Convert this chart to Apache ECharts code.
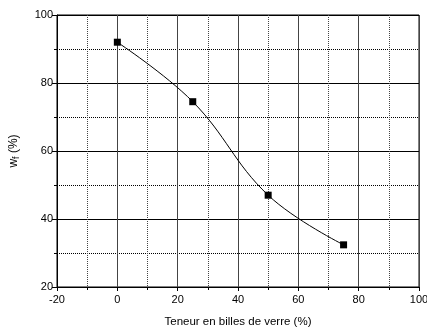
<!DOCTYPE html>
<html>
<head>
<meta charset="utf-8">
<script src="https://cdn.jsdelivr.net/npm/echarts@6/dist/echarts.min.js"></script>
<style>
    html, body { margin: 0; padding: 0; background: #fff; }
    #main { width: 427px; height: 327px; }
</style>
</head>
<body>
<div id="main"></div>
<script>
// teneur en billes de verre (%) et w_f (%)
var teneur = [0, 25, 50, 75];
var wf = [92, 74.5, 47, 32.4];

var xTicks = [-20, 0, 20, 40, 60, 80, 100];
var yTicks = [20, 40, 60, 80, 100];

var points = [];
for (var i = 0; i < teneur.length; i++) {
    points.push([teneur[i], wf[i]]);
}

var myChart = echarts.init(document.getElementById('main'));
var font = 'Liberation Sans, Arial, sans-serif';

var option = {
    animation: false,
    grid: {
        left: 57,
        right: 8,
        top: 15,
        bottom: 40,
        outerBoundsMode: 'none',
        show: true,
        borderColor: '#000',
        borderWidth: 1
    },
    xAxis: {
        type: 'value',
        min: xTicks[0],
        max: xTicks[xTicks.length - 1],
        interval: 20,
        name: 'Teneur en billes de verre (%)',
        nameLocation: 'middle',
        nameGap: 29,
        nameTextStyle: { color: '#000', fontSize: 11.5, fontFamily: font },
        axisLine: { onZero: false, lineStyle: { color: '#000', width: 1 } },
        axisTick: { inside: false, length: 4, lineStyle: { color: '#000' } },
        minorTick: { show: true, splitNumber: 2, length: 3, lineStyle: { color: '#000' } },
        axisLabel: { color: '#000', fontSize: 11, fontFamily: font, margin: 7 },
        splitLine: { show: true, lineStyle: { color: '#444', width: 1 } },
        minorSplitLine: { show: true, lineStyle: { color: '#444', width: 1, type: 'dotted' } }
    },
    yAxis: {
        type: 'value',
        min: yTicks[0],
        max: yTicks[yTicks.length - 1],
        interval: 20,
        name: 'w{sub|f} (%)',
        nameLocation: 'middle',
        nameGap: 36,
        nameTextStyle: {
            color: '#000', fontSize: 12, fontFamily: font,
            rich: {
                sub: { fontSize: 9, fontFamily: font, color: '#000', verticalAlign: 'bottom', padding: [5, 0, 0, 0] }
            }
        },
        axisLine: { onZero: false, lineStyle: { color: '#000', width: 1 } },
        axisTick: { inside: false, length: 5, lineStyle: { color: '#000' } },
        minorTick: { show: true, splitNumber: 2, length: 3, lineStyle: { color: '#000' } },
        axisLabel: { color: '#000', fontSize: 11, fontFamily: font, margin: 4 },
        splitLine: { show: true, lineStyle: { color: '#000', width: 1 } },
        minorSplitLine: { show: true, lineStyle: { color: '#000', width: 1, type: 'dotted' } }
    },
    series: [
        {
            type: 'line',
            data: points,
            smooth: 0.4,
            symbol: 'rect',
            symbolSize: 7,
            itemStyle: { color: '#000' },
            lineStyle: { color: '#000', width: 1 }
        }
    ]
};

myChart.setOption(option);
</script>
</body>
</html>
